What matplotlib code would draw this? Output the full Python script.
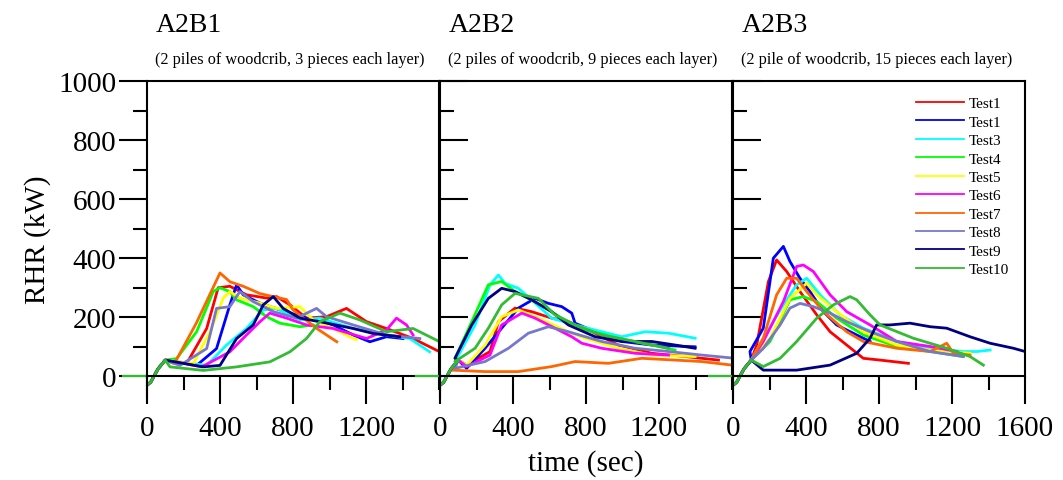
import numpy as np
import matplotlib
matplotlib.use('Agg')
import matplotlib.pyplot as plt
from matplotlib.ticker import MultipleLocator, FixedLocator

plt.rcParams['font.family'] = ['Liberation Serif', 'DejaVu Serif']

labels = ['Test1', 'Test1', 'Test3', 'Test4', 'Test5', 'Test6', 'Test7', 'Test8', 'Test9', 'Test10']
colors = ['#ff0000', '#0000ff', '#00ffff', '#00ff00', '#ffff00', '#ff00ff',
          '#ff6600', '#7777cc', '#000080', '#33bb33']

titles = ['A2B1', 'A2B2', 'A2B3']
subtitles = ['(2 piles of woodcrib, 3 pieces each layer)',
             '(2 piles of woodcrib, 9 pieces each layer)',
             '(2 pile of woodcrib, 15 pieces each layer)']

# common ignition start (time s, RHR kW)
start_t = [0, 20, 60, 100]
start_v = [-30, -20, 25, 55]

# ---- A2B1 ----
a1_t = {
    'Test1':  [217, 327, 390, 454, 545, 655, 710, 783, 874, 984, 1093, 1203, 1312, 1458, 1604],
    'Test1b': [272, 381, 454, 491, 527, 619, 728, 874, 1020, 1130, 1221, 1312, 1403],
    'Test3':  [327, 436, 545, 637, 710, 838, 947, 1130, 1312, 1440, 1549],
    'Test4':  [162, 272, 363, 400, 454, 491, 582, 655, 728, 838, 910],
    'Test5':  [254, 345, 418, 454, 509, 619, 710, 838, 911, 1020, 1130, 1148],
    'Test6':  [300, 454, 545, 619, 673, 765, 874, 1020, 1203, 1312, 1367, 1422, 1458],
    'Test7':  [150, 270, 400, 455, 527, 620, 690, 765, 800, 930, 1040],
    'Test8':  [180, 327, 381, 454, 509, 582, 692, 819, 929, 984, 1130, 1312, 1495],
    'Test9':  [308, 400, 491, 582, 637, 692, 746, 838, 947, 1130, 1239, 1385],
    'Test10': [126, 308, 491, 673, 783, 874, 947, 1057, 1166, 1312, 1458, 1604],
}
a1_v = {
    'Test1':  [43, 162, 300, 305, 276, 265, 270, 242, 197, 202, 230, 185, 162, 128, 83],
    'Test1b': [37, 94, 242, 310, 276, 248, 225, 197, 174, 140, 117, 134, 128],
    'Test3':  [37, 106, 162, 225, 230, 191, 197, 162, 140, 128, 83],
    'Test4':  [60, 151, 287, 300, 287, 259, 236, 202, 180, 168, 174],
    'Test5':  [43, 151, 265, 287, 265, 248, 230, 236, 191, 162, 128, 125],
    'Test6':  [32, 83, 140, 185, 214, 197, 174, 162, 128, 157, 197, 174, 140],
    'Test7':  [43, 180, 350, 320, 305, 280, 270, 260, 225, 162, 117],
    'Test8':  [37, 94, 230, 236, 287, 253, 219, 197, 230, 202, 174, 140, 128],
    'Test9':  [32, 37, 128, 174, 242, 270, 230, 197, 185, 162, 145, 134],
    'Test10': [32, 20, 32, 49, 83, 128, 185, 214, 191, 151, 162, 117],
}

# ---- A2B2 ----
a2_t = {
    'Test1':  [146, 274, 320, 411, 502, 612, 703, 795, 977, 1160, 1343, 1526],
    'Test1b': [146, 247, 338, 429, 521, 594, 667, 722, 740, 850, 996, 1160, 1398],
    'Test3':  [82, 192, 274, 320, 356, 429, 502, 612, 740, 886, 996, 1124, 1252, 1398],
    'Test4':  [82, 174, 265, 338, 411, 521, 667, 795, 977, 1160, 1288],
    'Test5':  [146, 247, 338, 429, 539, 703, 795, 977, 1160, 1398],
    'Test6':  [146, 274, 338, 448, 521, 630, 722, 777, 886, 1069, 1252],
    'Test7':  [64, 247, 429, 612, 740, 923, 1105, 1288, 1434, 1599],
    'Test8':  [82, 247, 375, 484, 594, 703, 886, 1069, 1252, 1434, 1617],
    'Test9':  [82, 174, 265, 338, 411, 502, 612, 703, 850, 996, 1160, 1288, 1398],
    'Test10': [82, 192, 265, 338, 411, 539, 630, 740, 886, 1069, 1252],
}
a2_v = {
    'Test1':  [38, 84, 185, 231, 219, 197, 185, 163, 106, 78, 67, 55],
    'Test1b': [27, 95, 163, 231, 264, 247, 236, 214, 180, 151, 118, 106, 100],
    'Test3':  [50, 174, 310, 343, 315, 298, 259, 197, 174, 151, 134, 151, 146, 129],
    'Test4':  [61, 185, 310, 321, 287, 253, 197, 157, 129, 106, 89],
    'Test5':  [38, 106, 202, 225, 197, 151, 129, 95, 72, 67],
    'Test6':  [33, 72, 174, 214, 197, 163, 134, 112, 95, 78, 72],
    'Test7':  [21, 16, 16, 33, 50, 44, 61, 55, 50, 38],
    'Test8':  [27, 50, 95, 146, 168, 151, 118, 95, 84, 72, 61],
    'Test9':  [61, 174, 264, 298, 287, 259, 219, 174, 134, 118, 118, 106, 95],
    'Test10': [50, 95, 163, 242, 281, 264, 208, 174, 140, 118, 95],
}

# ---- A2B3 ----
a3_t = {
    'Test1':  [130, 194, 239, 294, 367, 459, 532, 623, 714, 806, 961],
    'Test1b': [93, 166, 221, 276, 312, 367, 422, 495, 568, 678, 751],
    'Test3':  [166, 276, 349, 404, 477, 586, 714, 897, 1080, 1262, 1336, 1409],
    'Test4':  [203, 312, 385, 459, 568, 714, 897, 1080, 1262],
    'Test5':  [203, 312, 404, 459, 568, 714, 897, 1080, 1299],
    'Test6':  [166, 276, 349, 385, 440, 532, 623, 751, 897, 1080, 1226],
    'Test7':  [166, 239, 294, 349, 404, 495, 623, 714, 897, 1080, 1171, 1208, 1299],
    'Test8':  [166, 258, 312, 367, 440, 532, 623, 751, 897, 1080, 1262],
    'Test9':  [166, 349, 532, 678, 751, 787, 860, 970, 1080, 1171, 1299, 1409, 1537, 1600],
    'Test10': [166, 258, 349, 459, 550, 641, 678, 751, 806, 988, 1171, 1299, 1372],
}
a3_v = {
    'Test1':  [106, 321, 394, 355, 287, 208, 151, 106, 61, 55, 44],
    'Test1b': [84, 163, 400, 440, 389, 332, 287, 219, 174, 140, 118],
    'Test3':  [129, 242, 310, 332, 276, 208, 163, 118, 95, 84, 84, 89],
    'Test4':  [118, 259, 270, 253, 197, 140, 101, 84, 67],
    'Test5':  [129, 264, 315, 276, 219, 151, 106, 89, 78],
    'Test6':  [118, 253, 372, 377, 355, 276, 219, 174, 118, 101, 84],
    'Test7':  [129, 276, 332, 332, 287, 219, 151, 118, 95, 84, 112, 78, 72],
    'Test8':  [95, 174, 231, 247, 236, 214, 185, 151, 118, 84, 67],
    'Test9':  [21, 21, 38, 78, 129, 174, 174, 180, 168, 163, 134, 112, 95, 84],
    'Test10': [33, 61, 118, 197, 242, 270, 259, 208, 174, 129, 95, 67, 38],
}

keys = ['Test1', 'Test1b', 'Test3', 'Test4', 'Test5', 'Test6', 'Test7', 'Test8', 'Test9', 'Test10']
panels = [(a1_t, a1_v), (a2_t, a2_v), (a3_t, a3_v)]

fig = plt.figure(figsize=(10.63, 4.81), dpi=100)
W, H = 1063, 481
lefts = [147, 440, 733]
pw = 292
axes = []
for i, (pt, pv) in enumerate(panels):
    ax = fig.add_axes([lefts[i] / W, 1 - 398 / H, pw / W, 316 / H])
    axes.append(ax)
    for k, lab, c in zip(keys, labels, colors):
        t = start_t + pt[k]
        v = start_v + pv[k]
        ax.plot(t, v, color=c, lw=2.0, label=lab)
    # flat baseline before ignition drawn outside the frame
    ax.plot([-130, 0], [0, 0], color=colors[9], lw=1.6, clip_on=False)
    ax.set_xlim(0, 1600)
    ax.set_ylim(-70, 1000)
    ax.spines['bottom'].set_position(('data', 0))
    ax.spines['right'].set_bounds(0, 1000)
    for s in ax.spines.values():
        s.set_linewidth(1.5)
    ax.xaxis.set_major_locator(MultipleLocator(400))
    ax.xaxis.set_minor_locator(MultipleLocator(200))
    ax.yaxis.set_major_locator(FixedLocator([0, 200, 400, 600, 800, 1000]))
    ax.yaxis.set_minor_locator(FixedLocator([100, 300, 500, 700, 900]))
    ax.tick_params(axis='x', which='major', direction='out', length=20, width=1.5,
                   labelsize=21, pad=8)
    ax.tick_params(axis='x', which='minor', direction='out', length=10, width=1.5)
    if i == 0:
        ax.tick_params(axis='y', which='major', direction='out', length=20, width=1.5,
                       labelsize=21, pad=2)
        ax.tick_params(axis='y', which='minor', direction='out', length=10, width=1.5)
        ax.set_ylabel('RHR (kW)', fontsize=21, labelpad=5)
    else:
        ax.tick_params(axis='y', which='major', direction='in', length=20, width=1.5,
                       labelleft=False)
        ax.tick_params(axis='y', which='minor', direction='in', length=10, width=1.5)
    if i < 2:
        ax.set_xticks([0, 400, 800, 1200])
        ax.set_xticklabels(['0', '400', '800', '1200'])
    fig.text((lefts[i] + 9) / W, 1 - 26 / H, titles[i], fontsize=20,
             va='center', ha='left')
    fig.text((lefts[i] + 8) / W, 1 - 60 / H, subtitles[i], fontsize=11.7,
             va='center', ha='left')

axes[1].set_xlabel('time (sec)', fontsize=21, labelpad=6)
leg = axes[2].legend(loc='upper right', bbox_to_anchor=(0.965, 0.97), frameon=False,
                     fontsize=11, handlelength=3.1, labelspacing=0.31, borderaxespad=0.0,
                     handletextpad=0.3)
for ln in leg.get_lines():
    ln.set_linewidth(1.3)

fig.savefig('out.png', dpi=100)
